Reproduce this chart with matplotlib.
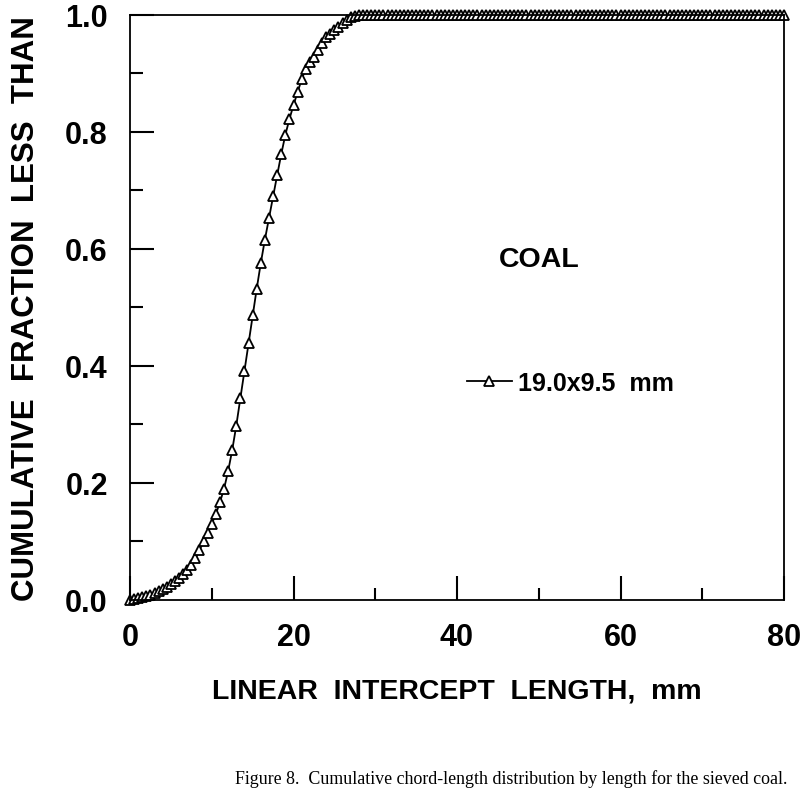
import matplotlib.pyplot as plt
from matplotlib.ticker import MultipleLocator

# chord length (mm), sampled every 0.5 mm
length_mm = [
    0.0, 0.5, 1.0, 1.5, 2.0, 2.5, 3.0, 3.5, 4.0, 4.5,
    5.0, 5.5, 6.0, 6.5, 7.0, 7.5, 8.0, 8.5, 9.0, 9.5,
    10.0, 10.5, 11.0, 11.5, 12.0, 12.5, 13.0, 13.5, 14.0, 14.5,
    15.0, 15.5, 16.0, 16.5, 17.0, 17.5, 18.0, 18.5, 19.0, 19.5,
    20.0, 20.5, 21.0, 21.5, 22.0, 22.5, 23.0, 23.5, 24.0, 24.5,
    25.0, 25.5, 26.0, 26.5, 27.0, 27.5, 28.0, 28.5, 29.0, 29.5,
    30.0, 30.5, 31.0, 31.5, 32.0, 32.5, 33.0, 33.5, 34.0, 34.5,
    35.0, 35.5, 36.0, 36.5, 37.0, 37.5, 38.0, 38.5, 39.0, 39.5,
    40.0, 40.5, 41.0, 41.5, 42.0, 42.5, 43.0, 43.5, 44.0, 44.5,
    45.0, 45.5, 46.0, 46.5, 47.0, 47.5, 48.0, 48.5, 49.0, 49.5,
    50.0, 50.5, 51.0, 51.5, 52.0, 52.5, 53.0, 53.5, 54.0, 54.5,
    55.0, 55.5, 56.0, 56.5, 57.0, 57.5, 58.0, 58.5, 59.0, 59.5,
    60.0, 60.5, 61.0, 61.5, 62.0, 62.5, 63.0, 63.5, 64.0, 64.5,
    65.0, 65.5, 66.0, 66.5, 67.0, 67.5, 68.0, 68.5, 69.0, 69.5,
    70.0, 70.5, 71.0, 71.5, 72.0, 72.5, 73.0, 73.5, 74.0, 74.5,
    75.0, 75.5, 76.0, 76.5, 77.0, 77.5, 78.0, 78.5, 79.0, 79.5,
    80.0,
]

# cumulative fraction less than, 19.0x9.5 mm coal
cum_frac = [
    0.000, 0.001, 0.003, 0.005, 0.007, 0.009, 0.012, 0.015, 0.019, 0.023,
    0.027, 0.032, 0.038, 0.044, 0.051, 0.060, 0.071, 0.085, 0.100, 0.115,
    0.130, 0.147, 0.167, 0.190, 0.220, 0.256, 0.298, 0.345, 0.392, 0.440,
    0.487, 0.532, 0.576, 0.616, 0.653, 0.690, 0.726, 0.762, 0.795, 0.822,
    0.846, 0.868, 0.890, 0.908, 0.920, 0.928, 0.940, 0.952, 0.962, 0.968,
    0.974, 0.980, 0.986, 0.991, 0.996, 0.999, 1.000, 1.000, 1.000, 1.000,
    1.000, 1.000, 1.000, 1.000, 1.000, 1.000, 1.000, 1.000, 1.000, 1.000,
    1.000, 1.000, 1.000, 1.000, 1.000, 1.000, 1.000, 1.000, 1.000, 1.000,
    1.000, 1.000, 1.000, 1.000, 1.000, 1.000, 1.000, 1.000, 1.000, 1.000,
    1.000, 1.000, 1.000, 1.000, 1.000, 1.000, 1.000, 1.000, 1.000, 1.000,
    1.000, 1.000, 1.000, 1.000, 1.000, 1.000, 1.000, 1.000, 1.000, 1.000,
    1.000, 1.000, 1.000, 1.000, 1.000, 1.000, 1.000, 1.000, 1.000, 1.000,
    1.000, 1.000, 1.000, 1.000, 1.000, 1.000, 1.000, 1.000, 1.000, 1.000,
    1.000, 1.000, 1.000, 1.000, 1.000, 1.000, 1.000, 1.000, 1.000, 1.000,
    1.000, 1.000, 1.000, 1.000, 1.000, 1.000, 1.000, 1.000, 1.000, 1.000,
    1.000, 1.000, 1.000, 1.000, 1.000, 1.000, 1.000, 1.000, 1.000, 1.000,
    1.000,
]

series_label = '19.0x9.5  mm'
sample_name = 'COAL'
caption = 'Figure 8.  Cumulative chord-length distribution by length for the sieved coal.'

plt.rcParams['font.family'] = ['Liberation Sans', 'DejaVu Sans']
plt.rcParams['font.weight'] = 'bold'

fig = plt.figure(figsize=(8, 8.04), dpi=100)
ax = fig.add_axes([0.1625, 0.2525, 0.8175, 0.7276])

ax.plot(length_mm, cum_frac, color='black', lw=1.3, marker='^', ms=6.5,
        mfc='white', mec='black', mew=1.3, label=series_label, clip_on=False)

ax.set_xlim(0, 80)
ax.set_ylim(0, 1.0)
ax.xaxis.set_major_locator(MultipleLocator(20))
ax.xaxis.set_minor_locator(MultipleLocator(10))
ax.yaxis.set_major_locator(MultipleLocator(0.2))
ax.yaxis.set_minor_locator(MultipleLocator(0.1))
ax.set_yticks([0.0, 0.2, 0.4, 0.6, 0.8, 1.0])
ax.set_yticklabels(['0.0', '0.2', '0.4', '0.6', '0.8', '1.0'])
ax.tick_params(which='both', direction='in', width=1.5, top=False, right=False)
ax.tick_params(which='major', length=17, pad=16, labelsize=22)
ax.tick_params(which='minor', length=9)
for sp in ax.spines.values():
    sp.set_linewidth(1.3)

ax.set_xlabel('LINEAR  INTERCEPT  LENGTH,  mm', fontsize=20.5, fontweight='bold', labelpad=18)
ax.set_ylabel('CUMULATIVE  FRACTION  LESS  THAN', fontsize=22.5, fontweight='bold', labelpad=17)

ax.text(50, 0.583, sample_name, fontsize=20.5, fontweight='bold', ha='center', va='center')
ax.legend(loc='center left', bbox_to_anchor=(0.515, 0.371), frameon=False, numpoints=1,
          borderaxespad=0, borderpad=0, handlelength=1.8, handletextpad=0.25, fontsize=18)

fig.text(0.294, 0.031, caption, fontsize=12.9, family='Liberation Serif',
         fontweight='normal', va='center')

fig.savefig('out.png', dpi=100)
plt.close(fig)
